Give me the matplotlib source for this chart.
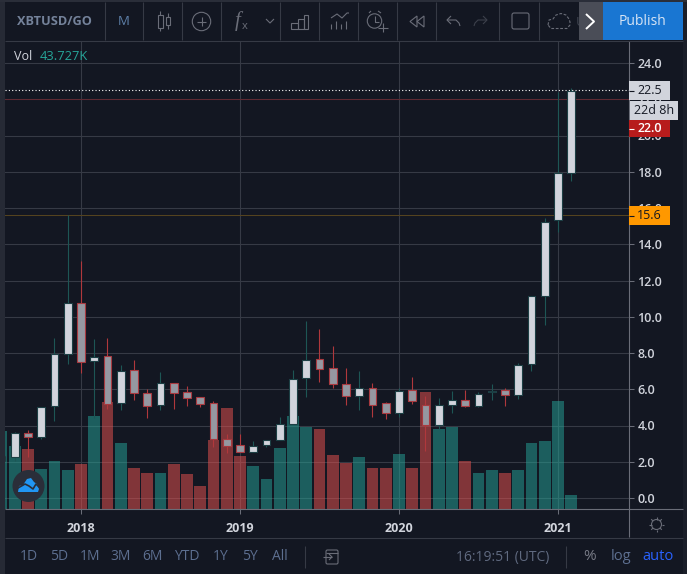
import numpy as np
import matplotlib
matplotlib.use("Agg")
import matplotlib.pyplot as plt
from matplotlib.patches import Rectangle, Circle, FancyBboxPatch, Polygon

# months counted from Jan 2018
months = list(range(-6, 38))
opens = [2.04, 2.28, 3.57, 3.38, 5.06, 7.93, 10.74, 7.54, 7.82, 5.22, 7.04, 5.78, 5.11, 6.33, 5.83, 5.55,
         5.22, 3.24, 2.91, 2.56, 2.91, 3.18, 4.10, 6.64, 7.65, 7.15, 6.27, 5.64, 6.05, 5.22, 4.71, 5.94,
         5.15, 4.05, 5.11, 5.42, 5.09, 5.85, 5.94, 5.70, 7.39, 11.13, 15.34, 17.93]
highs = [2.40, 3.66, 3.75, 5.04, 8.83, 15.60, 13.08, 8.75, 8.83, 7.34, 7.61, 6.00, 6.95, 6.33, 6.18, 5.55,
         5.35, 3.53, 3.53, 3.14, 3.18, 4.47, 7.06, 9.77, 9.32, 8.39, 7.17, 7.00, 6.34, 5.30, 6.07, 6.68,
         5.63, 5.52, 5.90, 5.96, 5.87, 6.29, 6.07, 7.43, 11.13, 15.43, 22.40, 22.60]
lows = [2.00, 2.06, 2.28, 3.27, 4.27, 7.41, 6.92, 4.41, 4.91, 4.87, 5.41, 4.41, 4.86, 4.91, 5.08, 5.04,
        2.83, 2.50, 2.53, 2.56, 2.81, 3.18, 4.10, 5.57, 6.40, 6.07, 5.13, 4.86, 4.47, 4.36, 4.47, 5.19,
        2.61, 3.80, 4.71, 5.04, 5.04, 5.41, 5.08, 5.46, 7.00, 9.56, 14.69, 17.50]
closes = [2.32, 3.57, 3.38, 5.04, 7.93, 10.74, 7.52, 7.80, 5.20, 7.02, 5.78, 5.09, 6.33, 5.81, 5.53, 5.20,
          3.24, 2.89, 2.56, 2.89, 3.18, 4.10, 6.55, 7.63, 7.13, 6.31, 5.64, 6.05, 5.15, 4.71, 5.89, 5.37,
          4.03, 5.11, 5.42, 5.09, 5.75, 5.92, 5.70, 7.35, 11.13, 15.25, 17.95, 22.47]
volumes = [242, 197, 188, 126, 151, 123, 141, 291, 335, 207, 129, 113, 113, 141, 110, 73,
           216, 316, 166, 135, 95, 191, 291, 257, 250, 169, 144, 163, 129, 129, 173, 129,
           366, 250, 257, 151, 113, 123, 113, 123, 207, 213, 338, 43.727]

price_ticks = [0, 2, 4, 6, 8, 10, 12, 14, 16, 18, 20, 22, 24]
year_ticks = [0, 12, 24, 36]
year_labels = ["2018", "2019", "2020", "2021"]
range_buttons = ["1D", "5D", "1M", "3M", "6M", "YTD", "1Y", "5Y", "All"]

BG = "#131722"
GRID = "#363a45"
TEXT = "#d1d4dc"
MUTED = "#787b86"
FONT = "Open Sans"

plt.rcParams["font.family"] = [FONT, "DejaVu Sans"]

W, H = 687, 574
fig = plt.figure(figsize=(W / 100, H / 100), dpi=100, facecolor=BG)

# plot area in pixels: x 5..629, y 41..509
ax = fig.add_axes([5 / W, 1 - 509 / H, 624 / W, 468 / H], facecolor=BG)
ax.set_xlim((5 - 81) / 13.25, (629 - 81) / 13.25)
ax.set_ylim((498 - 509) / 18.125, (498 - 41) / 18.125)

o = np.array(opens)
c = np.array(closes)
m = np.array(months)
up = c >= o

ax.set_axisbelow(True)
ax.grid(True, color=GRID, lw=0.8)
ax.axhline(22.0, color="#5e2a33", lw=0.75, zorder=1.5)
ax.axhline(15.6, color="#54431f", lw=0.75, zorder=1.5)

# volume shares the pane, on its own overlay scale
vol_scale = 0.01768
vol_base = ax.get_ylim()[0]
vol = np.array(volumes) * vol_scale
ax.bar(m[up], vol[up], bottom=vol_base, width=0.9, color="#26a69a", alpha=0.5, lw=0, zorder=2)
ax.bar(m[~up], vol[~up], bottom=vol_base, width=0.9, color="#ef5350", alpha=0.5, lw=0, zorder=2)

# candles
wick_up = "#1d5655"
wick_dn = "#b0383c"
ax.vlines(m[up], np.array(lows)[up], np.array(highs)[up], color=wick_up, lw=0.8, zorder=3)
ax.vlines(m[~up], np.array(lows)[~up], np.array(highs)[~up], color=wick_dn, lw=0.8, zorder=3)
ax.bar(m[up], (c - o)[up], bottom=o[up], width=0.6, color=TEXT, edgecolor="#1c3f44", lw=0.8, zorder=4)
ax.bar(m[~up], (o - c)[~up], bottom=c[~up], width=0.6, color="#9598a1", edgecolor="#a83a40", lw=0.8, zorder=4)

ax.axhline(22.5, color="white", lw=0.8, ls=(0, (1, 2)), zorder=5)

ax.yaxis.tick_right()
ax.set_yticks(price_ticks)
ax.set_yticklabels([f"{v:.1f}" for v in price_ticks], color=TEXT, fontsize=9, fontweight="semibold")
ax.set_xticks(year_ticks)
ax.set_xticklabels(year_labels, color=TEXT, fontsize=9, fontweight="bold")
ax.tick_params(axis="y", length=3.5, width=0.75, color="#6a6d78", pad=2.5)
ax.tick_params(axis="x", length=3.5, width=0.75, color="#6a6d78", pad=6)
for side, sp in ax.spines.items():
    sp.set_visible(False)

# everything around the chart is drawn in pixel coordinates
ch = fig.add_axes([0, 0, 1, 1], zorder=10)
ch.set_xlim(0, W)
ch.set_ylim(H, 0)
ch.axis("off")
ch.patch.set_alpha(0)


def rect(x0, y0, x1, y1, color, z=1, **kw):
    ch.add_patch(Rectangle((x0, y0), x1 - x0, y1 - y0, facecolor=color, edgecolor="none", zorder=z, **kw))


def line(xs, ys, color=MUTED, lw=0.8, z=3, **kw):
    ch.plot(xs, ys, color=color, lw=lw, zorder=z, solid_capstyle="butt", **kw)


# frame
rect(0, 0, 5, H, "#262a35")
rect(0, 0, W, 2, "#2a2e39")
rect(683, 0, W, H, "#1a1e29", z=0.9)
line([5, 683], [509, 509], "#6a6d78")
line([629, 629], [41, 537], "#6a6d78")
line([5, 683], [537.5, 537.5], GRID)
line([5, 683], [40.5, 40.5], GRID)

# top toolbar
for x in [105, 143, 182, 221, 280, 319, 358, 397, 436, 499, 539]:
    line([x, x], [2, 40], GRID)
ch.text(17, 21.5, "XBTUSD/GO", color="#74829a", fontsize=9.2, fontweight="bold", va="center")
ch.text(124, 21.5, "M", color="#5d7fa8", fontsize=9.5, ha="center", va="center")

ic = "#6a6d78"
# candle icon
line([160, 160], [11, 31], ic)
ch.add_patch(Rectangle((157.5, 14.5), 5, 13, fc=BG, ec=ic, lw=0.8, zorder=4))
line([167.5, 167.5], [13, 29], ic)
ch.add_patch(Rectangle((165.5, 17), 4, 8, fc=BG, ec=ic, lw=0.8, zorder=4))
# plus in circle
ch.add_patch(Circle((201.5, 21.5), 9.2, fc="none", ec=ic, lw=0.8, zorder=4))
line([197, 206], [21.5, 21.5], ic)
line([201.5, 201.5], [17, 26], ic)
# fx
ch.text(238, 21.5, "f", color=ic, fontsize=15, ha="center", va="center", family="Liberation Serif", style="italic")
ch.text(245, 26.5, "x", color=ic, fontsize=8, ha="center", va="center")
line([266, 270, 274], [19, 23, 19], ic)
# indicators bars
ch.add_patch(Rectangle((291, 23), 7, 5.5, fc="none", ec=ic, lw=0.8, zorder=4))
ch.add_patch(Rectangle((298, 18.5), 6, 10, fc="none", ec=ic, lw=0.8, zorder=4))
ch.add_patch(Rectangle((304, 14.5), 4, 14, fc="none", ec=ic, lw=0.8, zorder=4))
# compare icon
line([331, 337, 342, 347, 349], [18, 14, 18, 13, 13], ic)
for x, y0 in zip([331, 336, 341, 346], [24, 21, 24, 21]):
    line([x, x], [y0, 29], ic)
# alarm
ch.add_patch(Circle((374.5, 21), 7.2, fc="none", ec=ic, lw=0.8, zorder=4))
line([374.5, 374.5, 379], [16, 22, 22], ic)
line([369, 371], [13, 11], ic)
line([378, 381], [11, 13], ic)
line([378, 388], [27.5, 27.5], ic, z=5)
line([383, 383], [23, 32], ic, z=5)
# rewind
ch.add_patch(Polygon([[417, 16], [410, 21.5], [417, 27]], fc="none", ec=ic, lw=0.8, zorder=4))
ch.add_patch(Polygon([[424, 16], [417, 21.5], [424, 27]], fc="none", ec=ic, lw=0.8, zorder=4))
# undo, redo
line([451, 447, 451], [16, 20, 24], ic)
line([447, 456, 459, 460], [20, 20, 23, 26], ic)
line([483, 487, 483], [16, 20, 24], "#3c404b")
line([487, 478, 475, 474], [20, 20, 23, 26], "#3c404b")
# layout box
ch.add_patch(FancyBboxPatch((512, 13), 17, 16, boxstyle="round,pad=0,rounding_size=2", fc="none", ec=ic, lw=0.8, zorder=4))
# save cloud
cx = [548, 549, 553, 556, 561, 566, 569, 570, 570, 567, 551, 548]
cy = [25, 20, 19, 15, 13.5, 15, 19, 22, 25, 28.5, 28.5, 25]
ch.plot(cx, cy, color=ic, lw=0.8, ls=(0, (2.5, 1.5)), zorder=4)
ch.text(576, 22, "Un", color="#3f4450", fontsize=9.5, va="center")
rect(579, 2, 603, 40, "#4a4d57", z=4)
line([586, 594, 586], [14, 21.5, 29], "white", lw=1.4, z=5)
rect(603, 2, 683, 40, "#1976d2", z=4)
ch.text(643, 21.5, "Publish", color="#d6e4f5", fontsize=10, ha="center", va="center", zorder=5)

# legend
ch.text(14, 57, "Vol", color=TEXT, fontsize=9, va="center")
ch.text(40, 57, "43.727K", color="#26a69a", fontsize=9.3, va="center")

# price tags
rect(629, 81, 670, 100, TEXT, z=6)
line([629, 634], [90.5, 90.5], "#131722", z=7)
ch.text(637, 90.5, "22.5", color="#131722", fontsize=9, va="center", zorder=7)
rect(630, 101, 678, 120, TEXT, z=6)
ch.text(634, 110.5, "22d 8h", color="#131722", fontsize=9, va="center", zorder=7)
rect(629, 120, 670, 137, "#b71c1c", z=6)
line([629, 634], [128.5, 128.5], "white", z=7)
ch.text(637, 128.5, "22.0", color="white", fontsize=9, fontweight="semibold", va="center", zorder=7)
rect(629, 206, 670, 225, "#ff9800", z=6)
line([629, 634], [215.5, 215.5], "#131722", z=7)
ch.text(637, 215.5, "15.6", color="#131722", fontsize=9, va="center", zorder=7)

# gear
ch.add_patch(Circle((656.5, 524.5), 5, fc="none", ec=ic, lw=0.8, zorder=4))
for ang in np.arange(0, 360, 45):
    a = np.radians(ang)
    line([656.5 + 5 * np.cos(a), 656.5 + 7.5 * np.cos(a)], [524.5 + 5 * np.sin(a), 524.5 + 7.5 * np.sin(a)], ic)

# badge
ch.add_patch(Circle((28.5, 486), 16, fc="#2a2e39", zorder=5))
ch.add_patch(Polygon([[18, 492], [19, 486], [23, 485], [27, 479], [31, 478], [34, 482], [37, 484], [39, 489], [38, 492]],
                     fc="#2196f3", ec="none", zorder=6))
ch.plot([18, 25, 29, 33, 36, 39], [488, 484, 486, 489, 484, 487], color="#2a2e39", lw=1.2, zorder=7)

# bottom toolbar
for label, x in zip(range_buttons, [29, 59, 90, 121, 152, 187, 221, 250, 280]):
    ch.text(x, 557, label, color="#5d6f90", fontsize=10, ha="center", va="center")
line([305, 305], [546, 568], GRID)
ch.add_patch(FancyBboxPatch((326, 550), 12, 14, boxstyle="round,pad=0,rounding_size=1.5", fc="none", ec=ic, lw=0.8, zorder=4))
line([326, 338], [553, 553], ic, z=5)
line([323, 332], [557, 557], ic, z=5)
line([329, 332, 329], [554, 557, 560], ic, z=5)
ch.text(456, 557, "16:19:51 (UTC)", color="#606a80", fontsize=10, va="center")
line([566, 566], [546, 568], GRID)
ch.text(590, 557, "%", color="#787b86", fontsize=11, ha="center", va="center")
ch.text(621, 557, "log", color="#5d6f90", fontsize=10.5, ha="center", va="center")
ch.text(658, 557, "auto", color="#2962ff", fontsize=10.5, ha="center", va="center")

plt.savefig("out.png", dpi=100, facecolor=BG)
